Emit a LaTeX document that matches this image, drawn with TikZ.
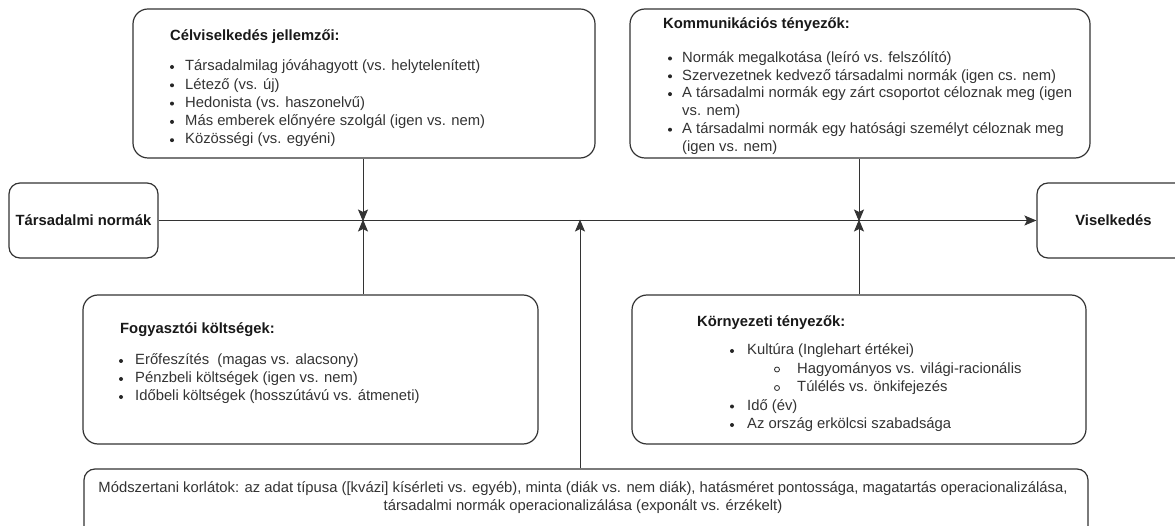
\documentclass[tikz,border=0pt]{standalone}
\usepackage{fontspec}
\setmainfont{Liberation Sans}
\usetikzlibrary{arrows.meta}
\tikzset{
  box/.style={draw=black!80, line width=1.2pt, rounded corners=15pt, fill=white, inner sep=0pt},
  sbox/.style={box, rounded corners=11pt, font=\fontsize{14.8}{17.6}\selectfont\bfseries, text=black!90},
  conn/.style={draw=black!80, line width=1pt, -{Stealth[length=12pt,width=10pt,inset=2.5pt]}},
  txt/.style={inner sep=0pt, anchor=west, text=black!80, font=\fontsize{14.8}{17.6}\selectfont, text height=10.5pt, text depth=3pt},
  ttl/.style={txt, font=\fontsize{14.8}{17.6}\selectfont\bfseries, text=black!90},
  bdot/.style={circle, fill=black!85, inner sep=0pt, minimum size=4pt},
  odot/.style={circle, draw=black!85, line width=0.8pt, inner sep=0pt, minimum size=5pt},
}
\begin{document}
\begin{tikzpicture}[x=1pt, y=-1pt]
\useasboundingbox (0,0) rectangle (1175,526);
% boxes
\node[box, minimum width=462pt, minimum height=149pt] (cel) at (364,83.5) {};
\node[box, minimum width=460pt, minimum height=149pt] (kom) at (860,83.5) {};
\node[sbox, minimum width=149pt, minimum height=75pt] (tn) at (83.5,220.5) {Társadalmi normák};
\node[sbox, minimum width=153pt, minimum height=75pt] (vis) at (1113.5,220.5) {Viselkedés};
\node[box, minimum width=455pt, minimum height=149pt] (fogy) at (310.5,369.5) {};
\node[box, minimum width=454pt, minimum height=149pt] (korny) at (859,369.5) {};
\node[box, rounded corners=11pt, minimum width=1004pt, minimum height=80pt] (bot) at (586,509) {};

% Célviselkedés
\node[ttl] (c0) at (170,37) {Célviselkedés jellemzői:};
\foreach \y/\t [count=\i] in {67/{Társadalmilag jóváhagyott (vs. helytelenített)}, 85.3/{Létező (vs. új)}, 103.6/{Hedonista (vs. haszonelvű)}, 121.9/{Más emberek előnyére szolgál (igen vs. nem)}, 140.2/{Közösségi (vs. egyéni)}}{
  \node[bdot] (cb\i) at (172,\y) {};
  \node[txt] (ct\i) at (185,\y) {\t};
}

% Kommunikációs
\node[ttl] (k0) at (663,25) {Kommunikációs tényezők:};
\foreach \y/\t [count=\i] in {58.5/{Normák megalkotása (leíró vs. felszólító)}, 76.3/{Szervezetnek kedvező társadalmi normák (igen cs. nem)}, 94.1/{A társadalmi normák egy zárt csoportot céloznak meg (igen}, 129.7/{A társadalmi normák egy hatósági személyt céloznak meg}}{
  \node[bdot] (kb\i) at (670,\y) {};
  \node[txt] (kt\i) at (682,\y) {\t};
}
\node[txt] (kt5) at (682,111.9) {vs. nem)};
\node[txt] (kt6) at (682,147.5) {(igen vs. nem)};

% Fogyasztói
\node[ttl] (f0) at (120,330) {Fogyasztói költségek:};
\foreach \y/\t [count=\i] in {361/{Erőfeszítés\ \ (magas vs. alacsony)}, 379/{Pénzbeli költségek (igen vs. nem)}, 397/{Időbeli költségek (hosszútávú vs. átmeneti)}}{
  \node[bdot] (fb\i) at (121,\y) {};
  \node[txt] (ft\i) at (135,\y) {\t};
}

% Környezeti
\node[ttl] (e0) at (697,323) {Környezeti tényezők:};
\node[bdot] (eb1) at (732,351) {};
\node[txt] (et1) at (747,351) {Kultúra (Inglehart értékei)};
\node[odot] (eo1) at (777,369.5) {};
\node[txt] (es1) at (797,369.5) {Hagyományos vs. világi-racionális};
\node[odot] (eo2) at (777,388) {};
\node[txt] (es2) at (797,388) {Túlélés vs. önkifejezés};
\node[bdot] (eb2) at (732,406.5) {};
\node[txt] (et2) at (747,406.5) {Idő (év)};
\node[bdot] (eb3) at (732,425) {};
\node[txt] (et3) at (747,425) {Az ország erkölcsi szabadsága};

% bottom
\node[txt, anchor=center] (b1) at (583,489) {Módszertani korlátok: az adat típusa ([kvázi] kísérleti vs. egyéb), minta (diák vs. nem diák), hatásméret pontossága, magatartás operacionalizálása,};
\node[txt, anchor=center] (b2) at (583,507) {társadalmi normák operacionalizálása (exponált vs. érzékelt)};

% connectors
\coordinate (j1) at (363,220.5);
\coordinate (j2) at (859,220.5);
\coordinate (j3) at (580,220.5);
\draw[conn] (tn.east) -- (vis.west);
\draw[conn] (cel.south -| j1) -- ([yshift=-1pt]j1);
\draw[conn] (fogy.north -| j1) -- ([yshift=1pt]j1);
\draw[conn] (kom.south -| j2) -- ([yshift=-1pt]j2);
\draw[conn] (korny.north -| j2) -- ([yshift=1pt]j2);
\draw[conn] (bot.north -| j3) -- ([yshift=1pt]j3);
\end{tikzpicture}
\end{document}
